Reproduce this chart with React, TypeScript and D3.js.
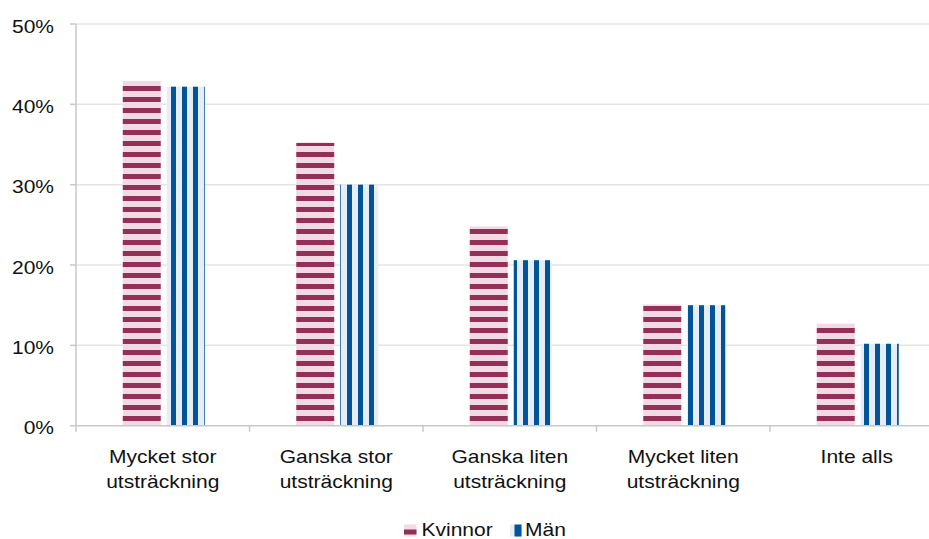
import React from "react";
import * as d3 from "d3";

const categories = [
  ["Mycket stor", "utsträckning"],
  ["Ganska stor", "utsträckning"],
  ["Ganska liten", "utsträckning"],
  ["Mycket liten", "utsträckning"],
  ["Inte alls"],
];
const series = ["Kvinnor", "Män"];
const kvinnor = [42.9, 35.2, 24.8, 15.1, 12.7];
const man = [42.2, 30.0, 20.6, 15.0, 10.2];
const yTicks = [0, 10, 20, 30, 40, 50];

const W = 929;
const H = 539;
const left = 76;
const right = 943.5;
const top = 24;
const bottom = 425.7;
const SX = 1.2;
const FONT = "'Liberation Sans', Arial, Helvetica, sans-serif";

export default function App() {
  const keys = categories.map((c) => c.join(" "));
  const x0 = d3.scaleBand<string>().domain(keys).range([left, right]).paddingInner(0).paddingOuter(0);
  const x1 = d3
    .scaleBand<string>()
    .domain(series)
    .range([0, x0.bandwidth()])
    .paddingInner(6 / 44)
    .paddingOuter(1.04);
  const y = d3.scaleLinear().domain([0, 50]).range([bottom, top]);
  const values = [kvinnor, man];
  const fills = ["url(#patK)", "url(#patM)"];

  const boundaries = [...keys.map((k) => x0(k) as number), right];

  return (
    <svg
      width={W}
      height={H}
      style={{ position: "absolute", left: 0, top: 0, background: "#fff" }}
      fontFamily={FONT}
    >
      <defs>
        <pattern id="patK" patternUnits="userSpaceOnUse" x={0} y={9} width={11} height={11}>
          <rect width={11} height={11} fill="#f1dae4" />
          <rect width={11} height={5} fill="#942f57" />
        </pattern>
        <pattern id="patM" patternUnits="userSpaceOnUse" x={6} y={0} width={11} height={11}>
          <rect width={11} height={11} fill="#e6edf6" />
          <rect width={5} height={11} fill="#005497" />
        </pattern>
      </defs>

      {/* gridlines */}
      {yTicks.filter((t) => t > 0).map((t) => (
        <line key={t} x1={left} x2={W} y1={y(t)} y2={y(t)} stroke="#e4e4e4" strokeWidth={1.5} />
      ))}

      {/* bars */}
      {keys.map((k, i) => (
        <g key={k}>
          {series.map((s, j) => {
            const bx = (x0(k) as number) + (x1(s) as number) + 1;
            const v = values[j][i];
            return (
              <rect
                key={s}
                x={bx}
                y={y(v)}
                width={x1.bandwidth()}
                height={y(0) - y(v)}
                fill={fills[j]}
              />
            );
          })}
        </g>
      ))}

      {/* axes */}
      <line x1={left} x2={left} y1={top} y2={bottom} stroke="#c8c8c8" strokeWidth={1.5} />
      <line x1={left} x2={W} y1={bottom} y2={bottom} stroke="#c8c8c8" strokeWidth={1.5} />
      {yTicks.map((t) => (
        <line key={t} x1={left - 6} x2={left} y1={y(t)} y2={y(t)} stroke="#c8c8c8" strokeWidth={1.5} />
      ))}
      {boundaries.map((b, i) => (
        <line key={i} x1={b} x2={b} y1={bottom} y2={bottom + 6} stroke="#c8c8c8" strokeWidth={1.5} />
      ))}

      {/* y tick labels */}
      {yTicks.map((t) => (
        <text
          key={t}
          transform={`translate(54,${y(t) + 8.5}) scale(${SX},1)`}
          textAnchor="end"
          fontSize={17.5}
          fill="#111"
        >
          {`${t}%`}
        </text>
      ))}

      {/* x labels */}
      {categories.map((c, i) => {
        const cx = (x0(keys[i]) as number) + x0.bandwidth() / 2;
        return c.map((line, li) => (
          <text
            key={`${i}-${li}`}
            transform={`translate(${cx},${463 + li * 25}) scale(${SX},1)`}
            textAnchor="middle"
            fontSize={17.5}
            fill="#111"
          >
            {line}
          </text>
        ));
      })}

      {/* legend */}
      <g>
        <rect x={404} y={524.5} width={12.5} height={12} fill="#f1dae4" />
        <rect x={404} y={529.5} width={12.5} height={5} fill="#942f57" />
        <text transform={`translate(421.5,535.5) scale(${SX},1)`} fontSize={17.5} fill="#111">
          {series[0]}
        </text>
        <rect x={510} y={524.5} width={12} height={12} fill="#e6edf6" />
        <rect x={514.5} y={524.5} width={7} height={12} fill="#005497" />
        <text transform={`translate(525,535.5) scale(${SX},1)`} fontSize={17.5} fill="#111">
          {series[1]}
        </text>
      </g>
    </svg>
  );
}
